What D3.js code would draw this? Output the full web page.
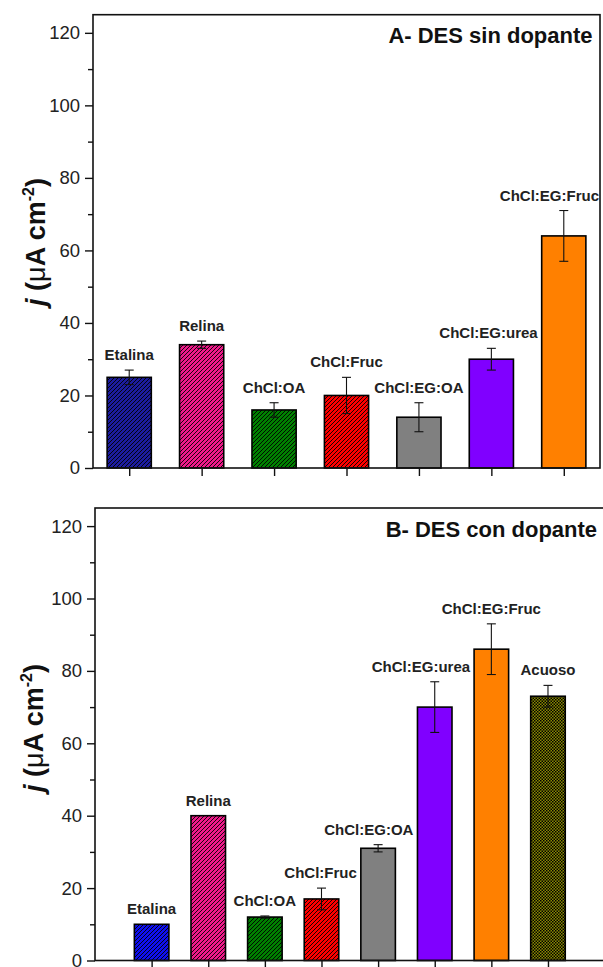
<!DOCTYPE html>
<html><head><meta charset="utf-8">
<script src="https://cdn.jsdelivr.net/npm/d3@7"></script>
<style>
html,body{margin:0;padding:0;background:#fff;}
svg{display:block;font-family:"Liberation Sans",Arial,sans-serif;}
</style></head>
<body>
<svg id="chart" width="603" height="967"></svg>
<script>
// ---------- DATA ----------
const categoriesA = ["Etalina","Relina","ChCl:OA","ChCl:Fruc","ChCl:EG:OA","ChCl:EG:urea","ChCl:EG:Fruc"];
const valuesA = [25, 34, 16, 20, 14, 30, 64];
const errorsA = [2, 1, 2, 5, 4, 3, 7];
const colorsA = ["#1c1ca0","#f0198a","#008000","#ff0000","#808080","#8000ff","#ff8000"];
const patternsA = ["hatch","hatch","hatch","hatch","none","none","none"];
const titleA = "A- DES sin dopante";

const categoriesB = ["Etalina","Relina","ChCl:OA","ChCl:Fruc","ChCl:EG:OA","ChCl:EG:urea","ChCl:EG:Fruc","Acuoso"];
const valuesB = [10, 40, 12, 17, 31, 70, 86, 73];
const errorsB = [0, 0, 0.3, 3, 1, 7, 7, 3];
const colorsB = ["#1010f0","#f0198a","#008000","#ff0000","#808080","#8000ff","#ff8000","#8a8a00"];
const patternsB = ["hatch","hatch","hatch","hatch","none","none","none","check"];
const titleB = "B- DES con dopante";

const majorTicks = [0, 20, 40, 60, 80, 100, 120];
const minorTicks = [10, 30, 50, 70, 90, 110];
const yDomain = [0, 125];

// ---------- DRAW ----------
const svg = d3.select("#chart");
const defs = svg.append("defs");
let patId = 0;
function makePattern(color, kind) {
  const id = "p" + (patId++);
  if (kind === "hatch") {
    const p = defs.append("pattern").attr("id", id).attr("patternUnits", "userSpaceOnUse")
      .attr("width", 4).attr("height", 4);
    p.append("rect").attr("width", 4).attr("height", 4).attr("fill", color);
    p.append("path").attr("d", "M0,4 L4,0 M-1,1 L1,-1 M3,5 L5,3")
      .attr("stroke", "#000").attr("stroke-width", 0.9);
  } else {
    const p = defs.append("pattern").attr("id", id).attr("patternUnits", "userSpaceOnUse")
      .attr("width", 3).attr("height", 3);
    p.append("rect").attr("width", 3).attr("height", 3).attr("fill", color);
    p.append("rect").attr("width", 1.5).attr("height", 1.5).attr("fill", "#000");
    p.append("rect").attr("x", 1.5).attr("y", 1.5).attr("width", 1.5).attr("height", 1.5).attr("fill", "#000");
  }
  return "url(#" + id + ")";
}

function panel(cfg) {
  const { cats, vals, errs, colors, pats, title, xDom, xr, yr, labelX, labelY } = cfg;
  const x = d3.scaleLinear().domain(xDom).range(xr);
  const y = d3.scaleLinear().domain(yDomain).range(yr);
  const g = svg.append("g");
  const bw = (x(1) - x(0)) * 0.61;
  const idx = cats.map((c, i) => i);

  // bars
  const bars = idx.map(i => ({
    i, x0: x(i + 1) - bw / 2, x1: x(i + 1) + bw / 2, top: y(vals[i])
  }));
  g.selectAll("rect.bar").data(bars).join("rect")
    .attr("class", "bar")
    .attr("x", d => d.x0).attr("width", bw)
    .attr("y", d => d.top).attr("height", d => y(0) - d.top)
    .attr("fill", d => pats[d.i] === "none" ? colors[d.i] : makePattern(colors[d.i], pats[d.i]))
    .attr("stroke", "#000").attr("stroke-width", 1.6);

  // error bars
  const eb = idx.filter(i => errs[i] > 0);
  const eg = g.selectAll("g.err").data(eb).join("g").attr("class", "err")
    .attr("stroke", "#111").attr("stroke-width", 1.1);
  eg.append("line").attr("x1", i => x(i + 1)).attr("x2", i => x(i + 1))
    .attr("y1", i => y(vals[i] + errs[i])).attr("y2", i => y(vals[i] - errs[i]));
  eg.append("line").attr("x1", i => x(i + 1) - 4.5).attr("x2", i => x(i + 1) + 4.5)
    .attr("y1", i => y(vals[i] + errs[i])).attr("y2", i => y(vals[i] + errs[i]));
  eg.append("line").attr("x1", i => x(i + 1) - 4.5).attr("x2", i => x(i + 1) + 4.5)
    .attr("y1", i => y(vals[i] - errs[i])).attr("y2", i => y(vals[i] - errs[i]));

  // frame
  g.append("rect").attr("x", xr[0]).attr("y", yr[1])
    .attr("width", xr[1] - xr[0]).attr("height", yr[0] - yr[1])
    .attr("fill", "none").attr("stroke", "#111").attr("stroke-width", 1.6);

  // y axes
  const ya = g.append("g").attr("transform", `translate(${xr[0]},0)`)
    .call(d3.axisLeft(y).tickValues(majorTicks).tickSize(8).tickPadding(5));
  ya.select(".domain").remove();
  ya.selectAll("text").attr("font-size", 18.5).attr("fill", "#222")
    .attr("font-family", "Liberation Sans, Arial, sans-serif");
  ya.selectAll("line").attr("stroke", "#111").attr("stroke-width", 1.4);
  const ym = g.append("g").attr("transform", `translate(${xr[0]},0)`)
    .call(d3.axisLeft(y).tickValues(minorTicks).tickSize(5).tickFormat(""));
  ym.select(".domain").remove();
  ym.selectAll("line").attr("stroke", "#111").attr("stroke-width", 1.4);

  // x axis ticks
  const xa = g.append("g").attr("transform", `translate(0,${yr[0]})`)
    .call(d3.axisBottom(x).tickValues(idx.map(i => i + 1)).tickSize(8).tickFormat(""));
  xa.select(".domain").remove();
  xa.selectAll("line").attr("stroke", "#111").attr("stroke-width", 1.4);

  // category labels above bars (nudged to avoid neighbouring bars / frame)
  idx.forEach(i => {
    const base = y(vals[i] + errs[i]) - 10;
    const t = g.append("text").attr("x", x(i + 1)).attr("y", base)
      .attr("text-anchor", "middle").attr("font-size", 15).attr("font-weight", "bold")
      .attr("fill", "#222").text(cats[i]);
    const w = t.node().getComputedTextLength();
    let left = x(i + 1) - w / 2;
    const lim = Math.min(xr[1], 603) - 1;
    if (left + w > lim) left = lim - w;
    const nb = bars[i + 1];
    if (nb && nb.top < base && left + w > nb.x0 - 4) left = nb.x0 - 4 - w;
    t.attr("x", left + w / 2);
  });

  // title
  g.append("text").attr("x", Math.min(xr[1], 605) - 7.5).attr("y", yr[1] + 28.5)
    .attr("text-anchor", "end").attr("font-size", 22).attr("font-weight", "bold")
    .attr("fill", "#111").text(title);

  // y label
  const yl = g.append("text").attr("transform", `translate(${labelX},${labelY}) rotate(-90)`)
    .attr("text-anchor", "middle").attr("font-size", 27).attr("font-weight", "bold").attr("fill", "#111");
  yl.append("tspan").attr("font-style", "italic").text("j");
  yl.append("tspan").text(" (");
  yl.append("tspan").attr("font-weight", "normal").text("\u03bc");
  yl.append("tspan").text("A cm");
  yl.append("tspan").attr("font-size", 16).attr("dy", -11).text("-2");
  yl.append("tspan").attr("dy", 11).text(")");
}

panel({ cats: categoriesA, vals: valuesA, errs: errorsA, colors: colorsA, pats: patternsA, title: titleA,
  xDom: [0.5, 7.5], xr: [93, 600], yr: [468, 14.7], labelX: 45, labelY: 242 });
panel({ cats: categoriesB, vals: valuesB, errs: errorsB, colors: colorsB, pats: patternsB, title: titleB,
  xDom: [0, 9], xr: [95, 604.6], yr: [960.5, 508], labelX: 43, labelY: 728 });
</script>
</body></html>
